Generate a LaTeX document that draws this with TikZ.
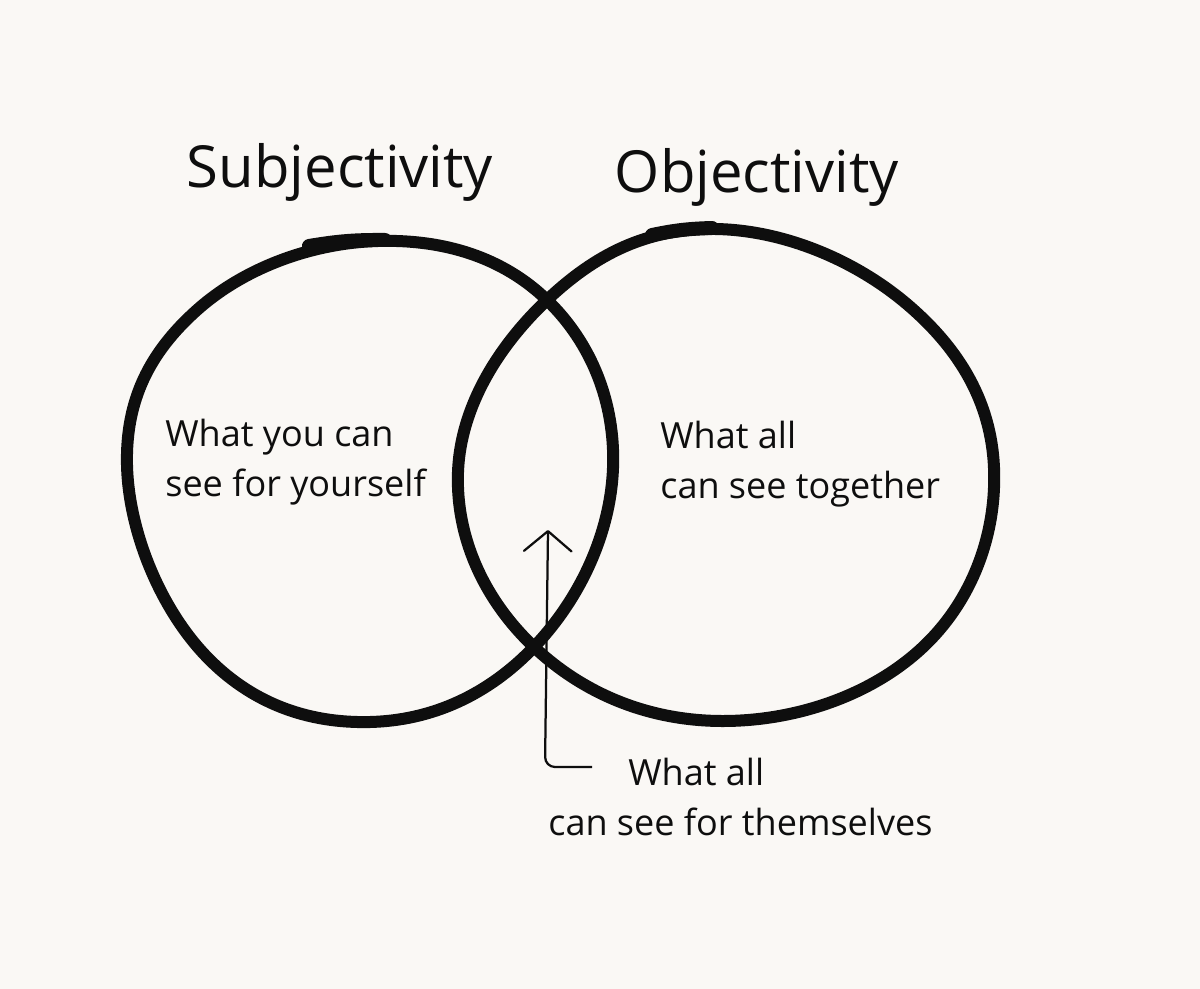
\documentclass[tikz,border=0pt]{standalone}
\usepackage{fontspec}
\setmainfont{Open Sans}
\usepackage{xcolor}
\definecolor{paper}{HTML}{FAF8F5}
\definecolor{ink}{HTML}{0E0E0E}
\usetikzlibrary{arrows.meta,positioning}
\tikzset{
  ring/.style={draw=ink, line width=2.4mm, line join=round, line cap=round},
  title/.style={font=\fontsize{33}{38}\selectfont, text=ink, inner sep=0pt},
  note/.style={font=\fontsize{20.5}{28.5}\selectfont, text=ink, align=left, inner sep=0pt},
  pointer/.style={draw=ink, line width=0.45mm, rounded corners=2mm,
                  -{Straight Barb[round, length=4mm, width=9.5mm]}},
}
\begin{document}
\begin{tikzpicture}[x=0.2mm, y=-0.2mm]
  \fill[paper] (0,0) rectangle (1200,989);
  \useasboundingbox (0,0) rectangle (1200,989);

  % the two circles, drawn by hand
  \draw[ring] plot[smooth cycle, tension=0.68] coordinates {
    (378,241) (547,300) (613,468) (534,647) (370,722) (205,655)
    (127,465) (197,310)};
  \draw[ring] plot[smooth cycle, tension=0.68] coordinates {
    (715,229) (908,305) (994,468) (922,648) (722,721) (534,647)
    (458,472) (547,300)};
  % where the pen came back on itself
  \draw[ring, line width=2.8mm] (309,246) to[bend left=5] (385,240);
  \draw[ring, line width=2.8mm] (652,235) to[bend left=5] (712,228);

  \node[title, anchor=base] (subjtitle) at (340,188) {Subjectivity};
  \node[title, anchor=base] (objtitle) at (757,193) {Objectivity};

  \node[note, anchor=west] (subjtext) at (165,462) {What you can\\see for yourself};
  \node[note, anchor=west] (objtext) at (660,464) {What all\\can see together};
  \node[note, anchor=north west] (bothtext) at (548,758)
    {\hspace*{16mm}What all\\can see for themselves};

  \coordinate (foot) at (592,767);
  \coordinate (elbow) at (545,767);
  \coordinate (tip) at (548,530);
  \draw[pointer] (foot) -- (elbow) -- (tip);
\end{tikzpicture}
\end{document}
